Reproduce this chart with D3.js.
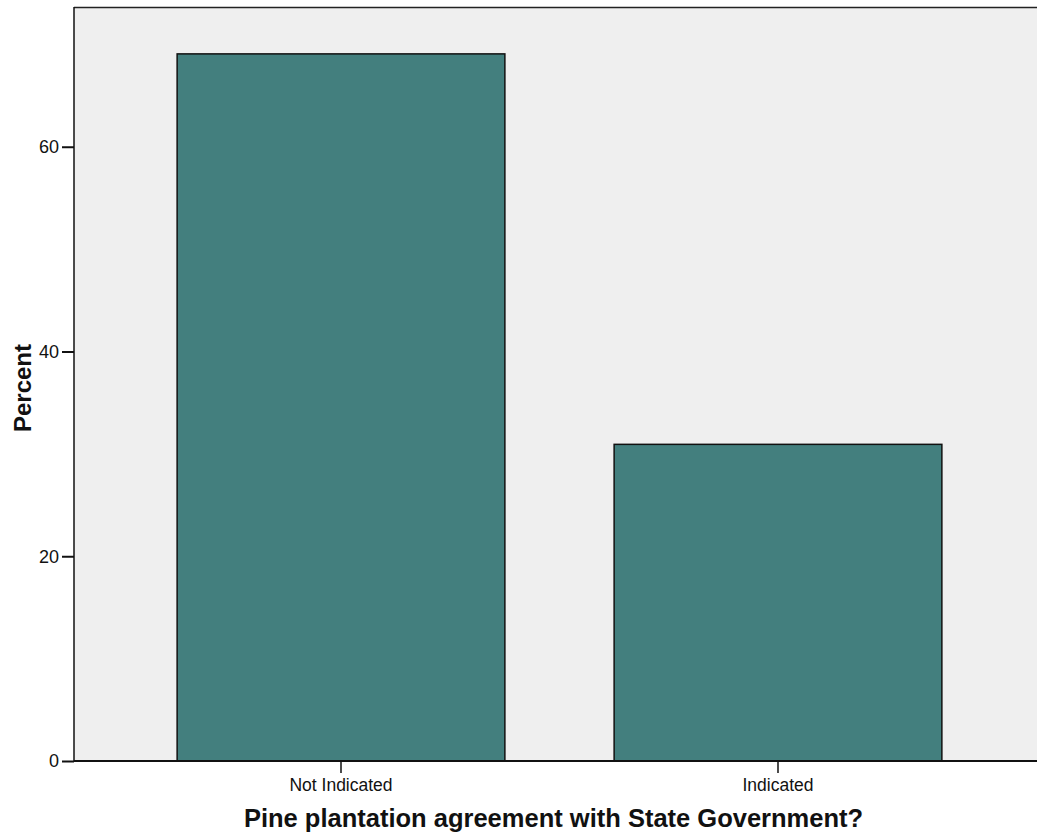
<!DOCTYPE html>
<html><head><meta charset="utf-8">
<script src="https://cdn.jsdelivr.net/npm/d3@7"></script>
<style>body{margin:0;background:#fff}svg{display:block}</style>
</head><body>
<script>
const categories = ["Not Indicated", "Indicated"];
const percents = [69.07, 30.93];
const yTicks = [0, 20, 40, 60];
const xTitle = "Pine plantation agreement with State Government?";
const yTitle = "Percent";

(function () {
const W = 1037, H = 834;
const pLeft = 74, pTop = 7, pBottom = 761, pRight = 1037;
const FONT = "'Liberation Sans', Arial, sans-serif";
const svg = d3.select("body").append("svg").attr("width", W).attr("height", H)
  .style("font-family", FONT);

const y = d3.scaleLinear().domain([0, 73.65]).range([pBottom, pTop]);
const x = d3.scaleBand().domain(categories).range([pLeft, 1045]).paddingInner(0.25).paddingOuter(0.236);

svg.append("rect").attr("x", pLeft).attr("y", pTop).attr("width", pRight - pLeft).attr("height", pBottom - pTop)
  .attr("fill", "#efefef");
svg.append("line").attr("x1", pLeft).attr("x2", pRight).attr("y1", pTop + 0.5).attr("y2", pTop + 0.5)
  .attr("stroke", "#222").attr("stroke-width", 1.5);

svg.selectAll("rect.bar").data(percents).enter().append("rect").attr("class", "bar")
  .attr("x", (d, i) => x(categories[i]))
  .attr("y", d => y(d))
  .attr("width", x.bandwidth())
  .attr("height", d => y(0) - y(d))
  .attr("fill", "#437f7e").attr("stroke", "#111").attr("stroke-width", 1.5);

const yAxis = svg.append("g").attr("transform", `translate(${pLeft},0)`)
  .call(d3.axisLeft(y).tickValues(yTicks).tickSize(12).tickPadding(3).tickFormat(d3.format("d")));
yAxis.select(".domain").attr("stroke", "#111").attr("stroke-width", 1.5).attr("d", `M0,${pTop}V${pBottom}`);
yAxis.selectAll(".tick line").attr("stroke", "#111").attr("stroke-width", 2);
yAxis.selectAll(".tick text").attr("font-size", 18).attr("fill", "#111").attr("font-family", FONT);

const xAxis = svg.append("g").attr("transform", `translate(0,${pBottom})`)
  .call(d3.axisBottom(x).tickSize(12).tickPadding(6).tickSizeOuter(0));
xAxis.select(".domain").attr("stroke", "#111").attr("stroke-width", 2).attr("d", `M${pLeft},0H${pRight}`);
xAxis.selectAll(".tick line").attr("stroke", "#111").attr("stroke-width", 1.5);
xAxis.selectAll(".tick text").attr("font-size", 17.5).attr("fill", "#111").attr("font-family", FONT);

svg.append("text").attr("x", 553.5).attr("y", 827).attr("text-anchor", "middle")
  .attr("font-size", 25.5).attr("font-weight", "bold").attr("fill", "#111").text(xTitle);
svg.append("text").attr("transform", "translate(31,388) rotate(-90)").attr("text-anchor", "middle")
  .attr("font-size", 24).attr("font-weight", "bold").attr("fill", "#111").text(yTitle);
})();
</script>
</body></html>
